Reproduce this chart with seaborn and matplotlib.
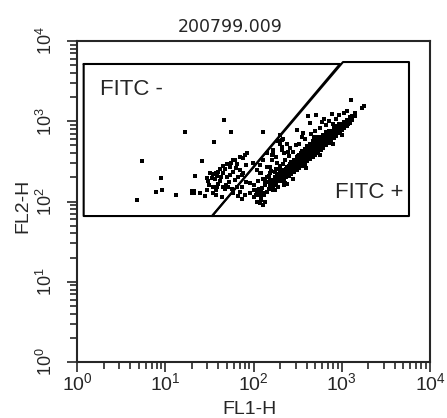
import numpy as np
import pandas as pd
import matplotlib
matplotlib.use("Agg")
import matplotlib.pyplot as plt
import seaborn as sns

# events, as log10 of channel value
loose_fl1 = [0.68, 0.74, 0.90, 0.96, 0.95, 1.12, 1.22, 1.30, 1.33, 1.30, 1.33, 1.34, 1.42, 1.55, 1.67, 1.75, 2.11, 1.39, 1.45, 1.47,
             1.90, 1.88, 1.79, 1.75, 1.70, 1.81, 1.92, 1.62, 1.68, 1.73, 1.85, 1.88, 1.58, 1.54, 1.66, 1.77, 1.53, 1.56, 1.62, 1.70,
             1.83, 1.87, 1.54, 1.60, 1.66, 1.71, 1.68, 1.81, 1.87, 1.77, 1.83, 1.90, 1.87, 1.51, 1.60, 1.47, 1.54, 1.59, 1.77, 1.85,
             1.93, 1.99, 1.50, 1.57, 1.63, 1.72, 1.79, 1.65, 1.73, 1.80, 1.59, 1.69, 1.76, 1.92, 1.85, 1.64, 1.58, 1.49,
             1.96, 2.01, 2.05, 1.96, 2.00, 2.07, 2.04, 2.09, 2.13, 2.11, 2.07, 2.02, 2.04, 2.08, 2.11, 2.00, 2.05, 2.11, 2.15, 2.19,
             2.24, 2.30, 2.26, 2.32, 2.21, 2.26, 2.32, 2.36, 2.17, 2.22, 2.28, 2.34, 2.28, 2.32, 2.38, 2.21, 2.26, 2.34, 2.39, 2.36,
             2.11, 2.07, 2.15, 2.04, 2.09, 2.15, 2.22, 2.19, 2.27, 2.07, 2.15, 2.22, 2.28,
             2.16, 2.19, 2.24, 2.27, 2.20, 2.25, 2.30, 2.18, 2.13, 2.06, 2.09, 2.12, 2.15, 2.03, 2.10, 2.33, 2.25, 2.29, 2.19, 2.13,
             3.11, 3.25, 3.23, 2.89, 2.80, 2.71, 2.62, 2.64, 2.49, 2.56, 2.30, 2.33, 2.32, 2.30, 2.41, 2.22, 2.21, 2.32, 2.22, 2.24,
             2.52, 2.58, 2.65, 2.70, 2.75, 2.82, 2.86, 2.93, 2.97, 3.02, 3.06, 2.45, 2.40, 2.36, 2.78, 2.55, 2.48, 2.68, 2.90,
             2.60, 2.75, 2.90, 3.00, 2.45, 2.38]
loose_fl2 = [2.02, 2.50, 2.12, 2.14, 2.29, 2.08, 2.87, 2.13, 2.13, 2.11, 2.11, 2.32, 2.50, 2.74, 3.02, 2.87, 2.87, 2.11, 2.07, 2.29,
             2.58, 2.54, 2.52, 2.48, 2.47, 2.47, 2.46, 2.40, 2.41, 2.43, 2.39, 2.35, 2.36, 2.34, 2.35, 2.37, 2.29, 2.28, 2.26, 2.30,
             2.31, 2.33, 2.18, 2.22, 2.18, 2.18, 2.15, 2.18, 2.18, 2.10, 2.07, 2.08, 2.03, 2.36, 2.37, 2.14, 2.10, 2.18, 2.52, 2.55,
             2.60, 2.48, 2.20, 2.14, 2.31, 2.24, 2.27, 2.44, 2.33, 2.42, 2.32, 2.21, 2.15, 2.24, 2.12, 2.06, 2.08, 2.25,
             2.23, 2.21, 2.14, 2.10, 2.06, 2.08, 2.00, 2.02, 2.00, 1.96, 1.98, 2.14, 2.11, 2.05, 2.11, 2.14, 2.25, 2.28, 2.31, 2.35,
             2.37, 2.39, 2.31, 2.33, 2.23, 2.25, 2.27, 2.23, 2.16, 2.14, 2.18, 2.21, 2.75, 2.68, 2.72, 2.58, 2.56, 2.60, 2.62, 2.52,
             2.52, 2.46, 2.43, 2.39, 2.35, 2.60, 2.64, 2.43, 2.48, 2.36, 2.31, 2.27, 2.31,
             2.24, 2.27, 2.30, 2.34, 2.38, 2.41, 2.44, 2.32, 2.20, 2.16, 2.13, 2.08, 2.12, 2.08, 2.17, 2.47, 2.21, 2.25, 2.20, 2.26,
             3.26, 3.19, 3.17, 3.09, 3.03, 3.08, 3.07, 2.98, 2.89, 2.85, 2.83, 2.78, 2.77, 2.72, 2.67, 2.60, 2.52, 2.64, 2.18, 2.14,
             2.72, 2.78, 2.84, 2.88, 2.92, 2.95, 3.00, 3.03, 3.08, 3.10, 3.13, 2.62, 2.57, 2.52, 2.99, 2.80, 2.70, 2.80, 2.97,
             2.42, 2.58, 2.72, 2.83, 2.28, 2.22]

core_fl1 = [2.28, 2.28, 2.28, 2.31, 2.31, 2.31, 2.34, 2.34, 2.34, 2.34, 2.37, 2.37, 2.37, 2.37,
            2.40, 2.40, 2.40, 2.40, 2.43, 2.43, 2.43, 2.43, 2.43, 2.46, 2.46, 2.46, 2.46, 2.46,
            2.49, 2.49, 2.49, 2.49, 2.49, 2.52, 2.52, 2.52, 2.52, 2.52,
            2.55, 2.55, 2.55, 2.55, 2.55, 2.55, 2.58, 2.58, 2.58, 2.58, 2.58, 2.58,
            2.61, 2.61, 2.61, 2.61, 2.61, 2.61, 2.64, 2.64, 2.64, 2.64, 2.64, 2.64,
            2.67, 2.67, 2.67, 2.67, 2.67, 2.67, 2.70, 2.70, 2.70, 2.70, 2.70, 2.70,
            2.73, 2.73, 2.73, 2.73, 2.73, 2.73, 2.76, 2.76, 2.76, 2.76, 2.76,
            2.79, 2.79, 2.79, 2.79, 2.79, 2.82, 2.82, 2.82, 2.82, 2.82, 2.85, 2.85, 2.85, 2.85, 2.85,
            2.88, 2.88, 2.88, 2.88, 2.91, 2.91, 2.91, 2.91, 2.94, 2.94, 2.94, 2.94, 2.97, 2.97, 2.97, 2.97,
            3.00, 3.00, 3.00, 3.03, 3.03, 3.03, 3.06, 3.06, 3.06, 3.09, 3.09, 3.09, 3.12, 3.12, 3.15, 3.15,
            2.295, 2.295, 2.325, 2.325, 2.325, 2.355, 2.355, 2.355, 2.385, 2.385, 2.385, 2.385,
            2.415, 2.415, 2.415, 2.415, 2.445, 2.445, 2.445, 2.445, 2.475, 2.475, 2.475, 2.475,
            2.505, 2.505, 2.505, 2.505, 2.505, 2.535, 2.535, 2.535, 2.535, 2.535,
            2.565, 2.565, 2.565, 2.565, 2.565, 2.595, 2.595, 2.595, 2.595, 2.595,
            2.625, 2.625, 2.625, 2.625, 2.625, 2.655, 2.655, 2.655, 2.655, 2.655,
            2.685, 2.685, 2.685, 2.685, 2.685, 2.715, 2.715, 2.715, 2.715, 2.715,
            2.745, 2.745, 2.745, 2.745, 2.745, 2.775, 2.775, 2.775, 2.775, 2.805, 2.805, 2.805, 2.805,
            2.835, 2.835, 2.835, 2.835, 2.865, 2.865, 2.865, 2.865, 2.895, 2.895, 2.895, 2.925, 2.925, 2.925,
            2.955, 2.955, 2.955, 2.985, 2.985, 2.985, 3.015, 3.015, 3.045, 3.045, 3.075, 3.075]
core_fl2 = [2.25, 2.29, 2.32, 2.26, 2.30, 2.34, 2.28, 2.32, 2.36, 2.39, 2.30, 2.34, 2.38, 2.41,
            2.32, 2.36, 2.40, 2.44, 2.34, 2.38, 2.42, 2.46, 2.49, 2.37, 2.41, 2.45, 2.49, 2.52,
            2.39, 2.43, 2.47, 2.51, 2.55, 2.42, 2.46, 2.50, 2.54, 2.58,
            2.44, 2.48, 2.52, 2.56, 2.60, 2.63, 2.47, 2.51, 2.55, 2.59, 2.63, 2.66,
            2.50, 2.54, 2.58, 2.62, 2.66, 2.69, 2.53, 2.57, 2.61, 2.65, 2.69, 2.72,
            2.56, 2.60, 2.64, 2.68, 2.72, 2.75, 2.58, 2.62, 2.66, 2.70, 2.74, 2.77,
            2.61, 2.65, 2.69, 2.73, 2.77, 2.80, 2.64, 2.68, 2.72, 2.76, 2.80,
            2.67, 2.71, 2.75, 2.79, 2.83, 2.70, 2.74, 2.78, 2.82, 2.86, 2.73, 2.77, 2.81, 2.85, 2.88,
            2.76, 2.80, 2.84, 2.88, 2.79, 2.83, 2.87, 2.91, 2.82, 2.86, 2.90, 2.94, 2.85, 2.89, 2.93, 2.96,
            2.89, 2.93, 2.97, 2.91, 2.95, 2.99, 2.94, 2.98, 3.02, 2.98, 3.02, 3.05, 3.02, 3.06, 3.06, 3.10,
            2.27, 2.31, 2.28, 2.32, 2.36, 2.30, 2.34, 2.38, 2.32, 2.36, 2.40, 2.43,
            2.35, 2.39, 2.43, 2.47, 2.37, 2.41, 2.45, 2.49, 2.40, 2.44, 2.48, 2.52,
            2.42, 2.46, 2.50, 2.54, 2.57, 2.45, 2.49, 2.53, 2.57, 2.61,
            2.47, 2.51, 2.55, 2.59, 2.63, 2.50, 2.54, 2.58, 2.62, 2.66,
            2.53, 2.57, 2.61, 2.65, 2.69, 2.56, 2.60, 2.64, 2.68, 2.72,
            2.58, 2.62, 2.66, 2.70, 2.74, 2.61, 2.65, 2.69, 2.73, 2.77,
            2.64, 2.68, 2.72, 2.76, 2.79, 2.67, 2.71, 2.75, 2.79, 2.70, 2.74, 2.78, 2.82,
            2.73, 2.77, 2.81, 2.85, 2.76, 2.80, 2.84, 2.87, 2.79, 2.83, 2.87, 2.82, 2.86, 2.90,
            2.85, 2.89, 2.93, 2.88, 2.92, 2.96, 2.91, 2.95, 2.94, 2.98, 2.97, 3.01]

# gates (channel values)
neg_gate_x = [1.19, 955, 33.9, 1.19, 1.19]
neg_gate_y = [5170, 5170, 65.9, 65.9, 5170]
pos_gate_x = [33.9, 5780, 5780, 1033, 33.9]
pos_gate_y = [65.9, 65.9, 5470, 5470, 65.9]

events = pd.DataFrame({
    "FL1-H": 10 ** np.array(loose_fl1 + core_fl1),
    "FL2-H": 10 ** np.array(loose_fl2 + core_fl2),
})

sns.set_style("ticks")
plt.rcParams["font.family"] = ["Liberation Sans", "DejaVu Sans"]

fig = plt.figure(figsize=(4.47, 4.18), dpi=100)
ax = fig.add_axes([77 / 447, 56 / 418, 353 / 447, 321 / 418])

sns.scatterplot(data=events, x="FL1-H", y="FL2-H", marker="s", s=6.5, color="black",
                linewidth=0, ax=ax, legend=False)
ax.plot(neg_gate_x, neg_gate_y, color="black", lw=1.5)
ax.plot(pos_gate_x, pos_gate_y, color="black", lw=1.5)

ax.set_xscale("log")
ax.set_yscale("log")
ax.set_xlim(1, 1e4)
ax.set_ylim(1, 1e4)

for sp in ax.spines.values():
    sp.set_linewidth(1.5)
    sp.set_visible(True)
ax.tick_params(which="major", length=7, width=1.2, direction="out", top=False, right=False)
ax.tick_params(which="minor", length=5, width=1.2, direction="out", top=False, right=False)
ax.tick_params(axis="x", which="major", labelsize=14, pad=0.5)
ax.tick_params(axis="y", which="major", labelsize=13, pad=8, labelrotation=90)
plt.setp(ax.get_yticklabels(), va="center")

ax.text(1.82, 2124, "FITC -", fontsize=16, ha="left", va="baseline")
ax.text(4945, 110.6, "FITC +", fontsize=16, ha="right", va="baseline")

ax.set_xlabel("FL1-H", fontsize=14)
ax.set_ylabel("FL2-H", fontsize=14)
ax.xaxis.set_label_coords(0.49, -0.122)
ax.yaxis.set_label_coords(-0.130, 0.486)

fig.text(230 / 447, 1 - 27.5 / 418, "200799.009", fontsize=12.5, family="DejaVu Sans",
         ha="center", va="center")

fig.savefig("out.png", dpi=100)
